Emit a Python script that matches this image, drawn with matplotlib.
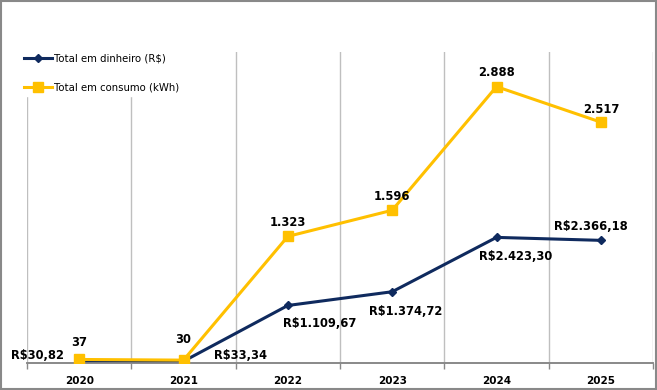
import matplotlib.pyplot as plt
from matplotlib.patches import Rectangle

anos = ['2020', '2021', '2022', '2023', '2024', '2025']
dinheiro = [30.82, 33.34, 1109.67, 1374.72, 2423.30, 2366.18]
consumo = [37, 30, 1323, 1596, 2888, 2517]

# offsets of the data labels, in points
off_din = [(-11, 4, 'right'), (22, 4, 'left'), (23, -13, 'center'),
           (10, -14, 'center'), (14, -14, 'center'), (-7, 10, 'center')]
off_con = [(0, 12), (0, 15), (0, 10), (0, 10), (0, 10), (0, 9)]

azul = '#0f2a5e'
amarelo = '#ffc000'
cinza = '#bfbfbf'


def fmt_br(v, casas):
    s = f'{v:,.{casas}f}'
    return s.replace(',', 'X').replace('.', ',').replace('X', '.')


fig = plt.figure(figsize=(6.57, 3.9), dpi=100)
ax = fig.add_axes([27 / 657, 27 / 390, 626 / 657, 311 / 390])
ax2 = ax.twinx()

x = list(range(len(anos)))

l1, = ax.plot(x, dinheiro, color=azul, lw=2.2, marker='D', ms=4.5, zorder=3)
l2, = ax2.plot(x, consumo, color=amarelo, lw=2.2, marker='s', ms=7, zorder=3)

ax.set_xlim(-0.5, len(anos) - 0.5)
ax.set_ylim(0, 6000)
ax2.set_ylim(0, 3250)

for a in (ax, ax2):
    a.set_yticks([])
    for s in ['left', 'right', 'top']:
        a.spines[s].set_visible(False)
    a.spines['bottom'].set_color('#898989')
    a.spines['bottom'].set_linewidth(1.2)

# grid lines at category boundaries, labels at centers
ax.set_xticks([i - 0.5 for i in range(len(anos) + 1)])
ax.set_xticklabels([])
ax.tick_params(axis='x', which='major', length=4, color='#898989', width=1)
ax.set_xticks(x, minor=True)
ax.set_xticklabels(anos, minor=True, fontsize=7.5, fontweight='bold')
ax.tick_params(axis='x', which='minor', length=0, pad=9)
ax.grid(axis='x', which='major', color=cinza, lw=1)
ax.set_axisbelow(True)

for i, v in enumerate(dinheiro):
    dx, dy, ha = off_din[i]
    ax.annotate('R$' + fmt_br(v, 2), (i, v), xytext=(dx, dy), textcoords='offset points',
                ha=ha, va='center', fontsize=8.3, fontweight='bold', zorder=5)

for i, v in enumerate(consumo):
    dx, dy = off_con[i]
    ax2.annotate(fmt_br(v, 0), (i, v), xytext=(dx, dy), textcoords='offset points',
                 ha='center', va='center', fontsize=8.3, fontweight='bold', zorder=5)

leg = fig.legend([l1, l2], ['Total em dinheiro (R$)', 'Total em consumo (kWh)'],
                 loc='upper left', bbox_to_anchor=(20 / 657, 1 - 49 / 390),
                 frameon=True, fontsize=7.3, labelspacing=1.9, handlelength=2.8,
                 handletextpad=0.15, borderpad=0.4, borderaxespad=0)
leg.get_frame().set_edgecolor('white')
leg.get_frame().set_facecolor('white')
leg.get_frame().set_alpha(1)

fig.patches.append(Rectangle((0.001, 0.002), 0.997, 0.995, transform=fig.transFigure,
                             fill=False, edgecolor='#898989', lw=1.5))

fig.savefig('out.png', dpi=100)
